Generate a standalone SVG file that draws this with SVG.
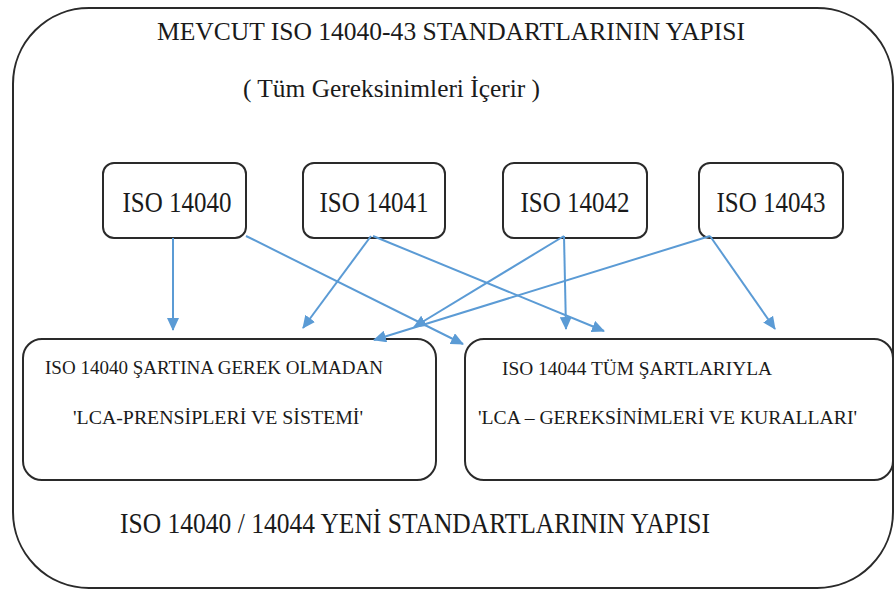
<svg xmlns="http://www.w3.org/2000/svg" width="895" height="590" viewBox="0 0 895 590" font-family="'Liberation Serif', 'Times New Roman', Times, serif">
  <defs>
    <style>
      .frame { fill: #ffffff; stroke: #2a2a2a; stroke-width: 2; }
      .box { fill: #ffffff; stroke: #2a2a2a; stroke-width: 2; }
      text { font-family: 'Liberation Serif', 'Times New Roman', Times, serif; fill: #1a1a1a; }
      .lbl { font-size: 29px; text-anchor: middle; }
      .link { stroke: #5b9bd5; stroke-width: 2; fill: none; marker-end: url(#arrow); }
    </style>
    <marker id="arrow" markerUnits="userSpaceOnUse" markerWidth="14" markerHeight="12" refX="12" refY="6" orient="auto">
      <path d="M0,0 L13,6 L0,12 z" fill="#5b9bd5"/>
    </marker>
  </defs>

  <rect x="0" y="0" width="895" height="590" fill="#ffffff"/>

  <!-- outer frame with headings -->
  <g id="frame">
    <rect class="frame" x="13" y="8" width="880" height="580" rx="76" ry="76"/>
    <text x="157" y="40" font-size="25" textLength="588" lengthAdjust="spacingAndGlyphs">MEVCUT ISO 14040-43 STANDARTLARININ YAPISI</text>
    <text x="243" y="97" font-size="25" textLength="297" lengthAdjust="spacingAndGlyphs">( Tüm Gereksinimleri İçerir )</text>
    <text x="120" y="533" font-size="29" textLength="590" lengthAdjust="spacingAndGlyphs">ISO 14040 / 14044 YENİ STANDARTLARININ YAPISI</text>
  </g>

  <!-- standard boxes -->
  <g id="iso14040">
    <rect class="box" x="103" y="163" width="143" height="75" rx="11"/>
    <text class="lbl" x="177" y="212" textLength="109" lengthAdjust="spacingAndGlyphs">ISO 14040</text>
  </g>
  <g id="iso14041">
    <rect class="box" x="303" y="163" width="142" height="75" rx="11"/>
    <text class="lbl" x="374" y="212" textLength="109" lengthAdjust="spacingAndGlyphs">ISO 14041</text>
  </g>
  <g id="iso14042">
    <rect class="box" x="503" y="163" width="144" height="75" rx="11"/>
    <text class="lbl" x="575" y="212" textLength="109" lengthAdjust="spacingAndGlyphs">ISO 14042</text>
  </g>
  <g id="iso14043">
    <rect class="box" x="699" y="163" width="144" height="75" rx="11"/>
    <text class="lbl" x="771" y="212" textLength="109" lengthAdjust="spacingAndGlyphs">ISO 14043</text>
  </g>

  <!-- new standard boxes -->
  <g id="iso14040new">
    <rect class="box" x="23" y="339" width="413" height="141" rx="19"/>
    <text x="45" y="374" font-size="18" textLength="338" lengthAdjust="spacingAndGlyphs">ISO 14040 ŞARTINA GEREK OLMADAN</text>
    <text x="73" y="424" font-size="19" textLength="290" lengthAdjust="spacingAndGlyphs">'LCA-PRENSİPLERİ VE SİSTEMİ'</text>
  </g>
  <g id="iso14044">
    <rect class="box" x="465" y="339" width="428" height="141" rx="19"/>
    <text x="502" y="375" font-size="18" textLength="270" lengthAdjust="spacingAndGlyphs">ISO 14044 TÜM ŞARTLARIYLA</text>
    <text x="478" y="424" font-size="19" textLength="379" lengthAdjust="spacingAndGlyphs">'LCA – GEREKSİNİMLERİ VE KURALLARI'</text>
  </g>

  <!-- connectors -->
  <g id="connectors">
    <line class="link" x1="173" y1="238" x2="173" y2="330"/>
    <line class="link" x1="246" y1="236" x2="463" y2="344"/>
    <line class="link" x1="371" y1="236" x2="303" y2="328"/>
    <line class="link" x1="373" y1="236" x2="604" y2="331"/>
    <line class="link" x1="564" y1="236" x2="566" y2="329"/>
    <line class="link" x1="564" y1="236" x2="414" y2="327"/>
    <line class="link" x1="710" y1="236" x2="374" y2="340"/>
    <line class="link" x1="710" y1="236" x2="775" y2="329"/>
  </g>
</svg>
